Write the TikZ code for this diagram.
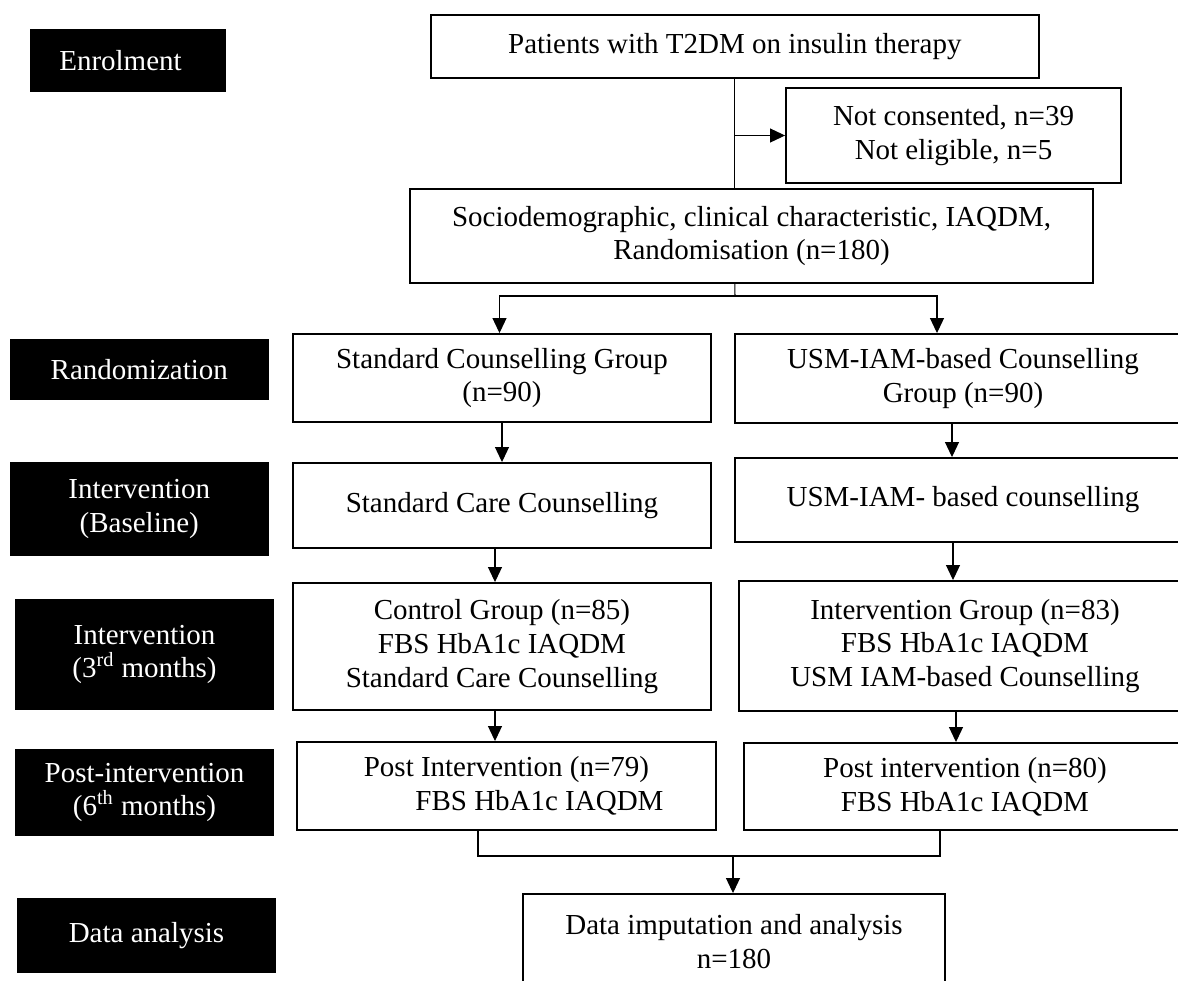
\documentclass[tikz,border=0pt]{standalone}
\usepackage{fontspec}
\setmainfont{Liberation Serif}
\usetikzlibrary{arrows.meta}

\tikzset{
  lbl/.style={fill=black, text=white, align=center, inner sep=0pt, font=\fontsize{16.5}{19.3}\selectfont},
  box/.style={draw, line width=1.1pt, fill=white, align=center, inner sep=0pt, font=\fontsize{16.5}{19.3}\selectfont},
  ln/.style={line width=0.6pt},
  arr/.style={ln, -{Triangle[width=0.28cm, length=0.3cm]}}
}

\begin{document}
\begin{tikzpicture}[x=0.02cm, y=-0.02cm]
  \useasboundingbox (0,0) rectangle (1178,981);
  \clip (0,0) rectangle (1178,981);

  % stage labels
  \node[lbl, minimum width=3.94cm, minimum height=1.26cm] (enrol) at (128,60.5) {Enrolment\hspace*{0.3cm}};
  \node[lbl, minimum width=5.19cm, minimum height=1.22cm] (rand) at (139.3,369.5) {Randomization};
  \node[lbl, minimum width=5.19cm, minimum height=1.88cm] (base) at (139.3,509) {Intervention\\(Baseline)};
  \node[lbl, minimum width=5.18cm, minimum height=2.22cm] (third) at (144.5,654.5) {Intervention\\(3\textsuperscript{rd} months)};
  \node[lbl, minimum width=5.18cm, minimum height=1.74cm] (post) at (144.5,792.5) {Post-intervention\\(6\textsuperscript{th} months)};
  \node[lbl, minimum width=5.18cm, minimum height=1.5cm] (dana) at (146.5,935.5) {Data analysis};

  % flow boxes
  \node[box, minimum width=12.17cm, minimum height=1.26cm] (pat) at (734.8,46.5) {Patients with T2DM on insulin therapy};
  \node[box, minimum width=6.7cm, minimum height=1.9cm] (excl) at (953.5,135.5) {Not consented, n=39\\Not eligible, n=5};
  \node[box, minimum width=13.66cm, minimum height=1.88cm] (soc) at (751.5,236) {Sociodemographic, clinical characteristic, IAQDM,\\Randomisation (n=180)};

  \node[box, minimum width=8.36cm, minimum height=1.76cm] (sgrp) at (502,378) {Standard Counselling Group\\(n=90)};
  \node[box, minimum width=9.12cm, minimum height=1.78cm] (ugrp) at (963,378.5) {USM-IAM-based Counselling\\Group (n=90)};
  \node[box, minimum width=8.36cm, minimum height=1.7cm] (scare) at (502,505.5) {Standard Care Counselling};
  \node[box, minimum width=9.12cm, minimum height=1.68cm] (ucare) at (963,500) {USM-IAM- based counselling};
  \node[box, minimum width=8.36cm, minimum height=2.54cm] (ctrl) at (502,646.5) {Control Group (n=85)\\FBS HbA1c IAQDM\\Standard Care Counselling};
  \node[box, minimum width=9.04cm, minimum height=2.6cm] (intv) at (965,646) {Intervention Group (n=83)\\FBS HbA1c IAQDM\\USM IAM-based Counselling};
  \node[box, minimum width=8.38cm, minimum height=1.76cm] (p79) at (506.5,786) {Post Intervention (n=79)\\\hspace*{1.32cm}FBS HbA1c IAQDM};
  \node[box, minimum width=8.84cm, minimum height=1.74cm] (p80) at (965,786.5) {Post intervention (n=80)\\FBS HbA1c IAQDM};
  \node[box, minimum width=8.44cm, minimum height=1.9cm] (imp) at (734,941.5) {Data imputation and analysis\\n=180};

  % connectors
  \draw[ln] (pat.south) -- (pat.south |- soc.north);
  \draw[arr] (pat.south |- excl.west) -- (excl.west);
  \coordinate (split) at (735,296);
  \draw[ln] (pat.south |- soc.south) -- (split);
  \draw[arr] (split) -| ([xshift=-0.05cm]sgrp.north);
  \draw[arr] (split) -| ([xshift=-0.52cm]ugrp.north);

  \draw[arr] (sgrp.south) -- (scare.north);
  \draw[arr] ([xshift=-0.22cm]ugrp.south) -- ([xshift=-0.22cm]ugrp.south |- ucare.north);
  \draw[arr] ([xshift=-0.14cm]scare.south) -- ([xshift=-0.14cm]scare.south |- ctrl.north);
  \draw[arr] ([xshift=-0.2cm]ucare.south) -- ([xshift=-0.2cm]ucare.south |- intv.north);
  \draw[arr] ([xshift=-0.14cm]ctrl.south) -- ([xshift=-0.14cm]ctrl.south |- p79.north);
  \draw[arr] ([xshift=-0.18cm]intv.south) -- ([xshift=-0.18cm]intv.south |- p80.north);

  \coordinate (mL) at (478,856);
  \coordinate (mR) at (940,856);
  \coordinate (mid) at (733,856);
  \draw[ln] (mL |- p79.south) -- (mL) -- (mR) -- (mR |- p80.south);
  \draw[arr] (mid) -- (mid |- imp.north);
\end{tikzpicture}
\end{document}
